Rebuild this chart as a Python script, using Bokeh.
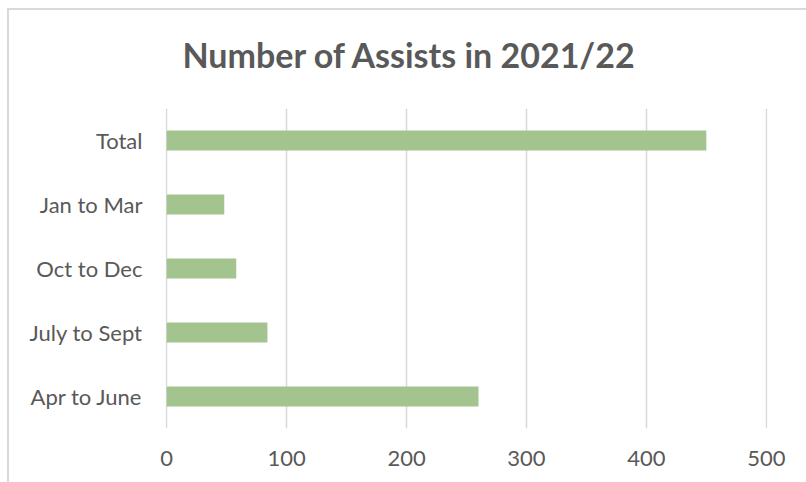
from bokeh.plotting import figure
from bokeh.models import ColumnDataSource, Range1d, FactorRange, FixedTicker, Title
from bokeh.embed import file_html
from bokeh.resources import INLINE

categories = ["Apr to June", "July to Sept", "Oct to Dec", "Jan to Mar", "Total"]
assists = [260, 84, 58, 48, 450]
x_ticks = [0, 100, 200, 300, 400, 500]
title_text = "Number of Assists in 2021/22"

FONT = "Lato"
TEXT_COLOR = "#595959"
BAR_COLOR = "#A3C48F"
GRID_COLOR = "#D9D9D9"

src = ColumnDataSource(dict(cat=categories, val=assists))

p = figure(
    y_range=FactorRange(factors=categories, range_padding=0),
    x_range=Range1d(-1, 501),
    frame_width=602, frame_height=320,
    min_border_left=156, min_border_right=39,
    min_border_top=98, min_border_bottom=54,
    output_backend="svg", toolbar_location=None,
)
p.margin = (8, 0, 0, 7)
p.styles = {"border-top": "2px solid #D9D9D9", "border-left": "2px solid #D9D9D9"}

p.hbar(y="cat", right="val", left=0, height=0.31, source=src,
       fill_color=BAR_COLOR, line_color=None)

p.outline_line_color = None
p.background_fill_color = "white"
p.border_fill_color = "white"

p.ygrid.grid_line_color = None
p.xgrid.grid_line_color = GRID_COLOR
p.xgrid.grid_line_width = 1.5
p.xaxis.ticker = FixedTicker(ticks=x_ticks)

for ax in (p.xaxis[0], p.yaxis[0]):
    ax.axis_line_color = None
    ax.major_tick_line_color = None
    ax.minor_tick_line_color = None
    ax.major_label_text_font = FONT
    ax.major_label_text_font_size = "22px"
    ax.major_label_text_color = TEXT_COLOR

p.xaxis.major_label_standoff = 16
p.yaxis.major_label_standoff = 17

p.title.text = title_text
p.title.align = "left"
p.title.offset = 17
p.title.vertical_align = "top"
p.title.standoff = 46
p.title.text_font = FONT
p.title.text_font_style = "bold"
p.title.text_font_size = "34px"
p.title.text_color = TEXT_COLOR

# thin empty spacer between title and plot area
p.add_layout(Title(text=" ", text_font_size="1px", standoff=6), "above")

open("out.html", "w").write(file_html(p, INLINE))
